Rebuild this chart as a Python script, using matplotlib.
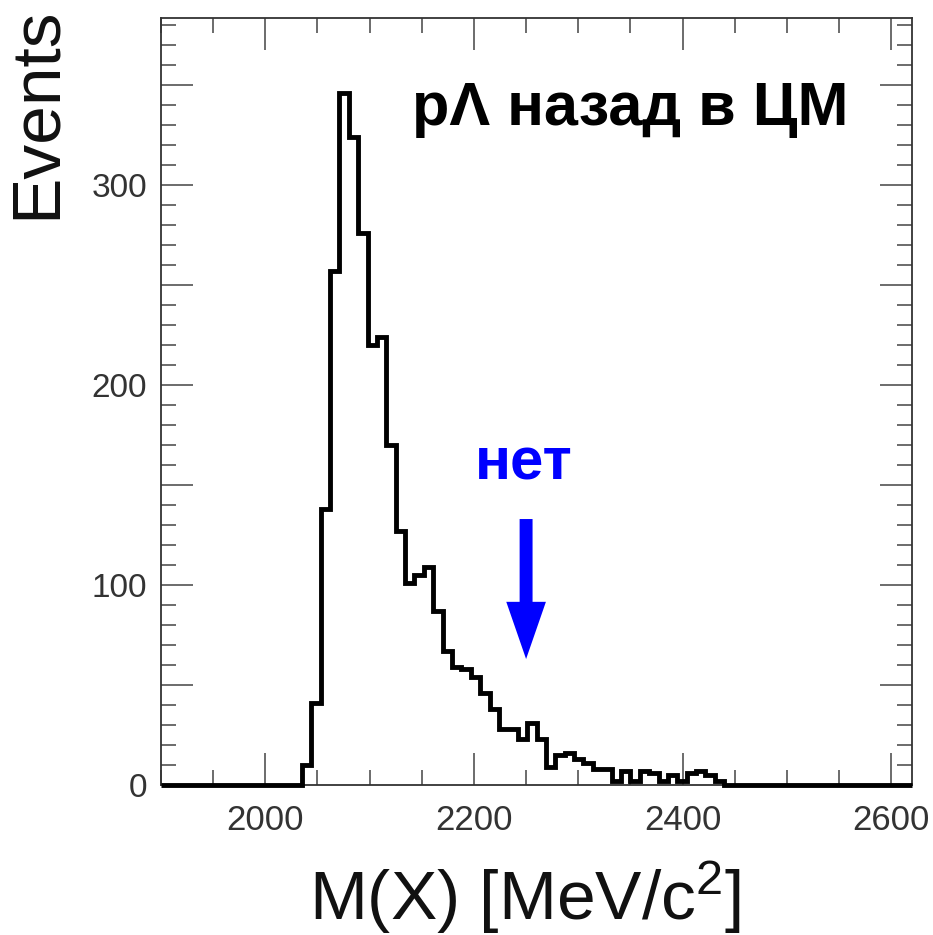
import numpy as np
import matplotlib
matplotlib.use("Agg")
import matplotlib.pyplot as plt
from matplotlib.ticker import MultipleLocator, FuncFormatter
from matplotlib.patches import FancyArrow

plt.rcParams['font.family'] = ['Liberation Sans', 'DejaVu Sans']
plt.rcParams['mathtext.default'] = 'regular'

# Histogram binning: 80 bins of 9 MeV from 1900 to 2620
x_min, x_max = 1900, 2620
n_bins = 80

# Event counts per bin
counts = [
    0, 0, 0, 0, 0, 0, 0, 0, 0, 0,
    0, 0, 0, 0, 0, 10, 41, 138, 257, 346,
    324, 276, 220, 224, 170, 127, 101, 105, 109, 87,
    67, 59, 58, 54, 46, 38, 28, 28, 23, 31,
    23, 9, 15, 16, 13, 11, 8, 8, 2, 7,
    2, 7, 6, 2, 5, 2, 6, 7, 5, 2,
    0, 0, 0, 0, 0, 0, 0, 0, 0, 0,
    0, 0, 0, 0, 0, 0, 0, 0, 0, 0,
]

x_tick_labels = [2000, 2200, 2400, 2600]
y_tick_labels = [0, 100, 200, 300]

title_text = "pΛ назад в ЦМ"
marker_text = "нет"
marker_mass = 2250  # MeV/c^2

edges = np.linspace(x_min, x_max, n_bins + 1)

fig = plt.figure(figsize=(9.33, 9.35), dpi=100)
ax = fig.add_axes([0.1726, 0.1604, 0.8049, 0.8203])

ax.stairs(counts, edges, color='black', linewidth=3.5, baseline=None,
          clip_on=False, zorder=3)

ax.set_xlim(x_min, x_max)
ax.set_ylim(0, 383.5)

ax.xaxis.set_major_locator(MultipleLocator(200))
ax.xaxis.set_minor_locator(MultipleLocator(50))
ax.yaxis.set_major_locator(MultipleLocator(50))
ax.yaxis.set_minor_locator(MultipleLocator(10))
ax.xaxis.set_major_formatter(
    FuncFormatter(lambda v, p: f"{v:.0f}" if round(v) in x_tick_labels else ""))
ax.yaxis.set_major_formatter(
    FuncFormatter(lambda v, p: f"{v:.0f}" if round(v) in y_tick_labels else ""))

ax.tick_params(which='both', direction='in', top=True, right=True,
               color='#444444', width=1.1, labelcolor='#333333',
               labelsize=24)
ax.tick_params(which='major', length=23)
ax.tick_params(which='minor', length=11)
ax.tick_params(axis='x', pad=14, labelsize=25)
ax.tick_params(axis='y', pad=10)

for s in ax.spines.values():
    s.set_linewidth(1.3)
    s.set_color('#333333')

# Axis titles
ax.text(0.485, -0.176, "M(X) [MeV/c$^{2}$]", transform=ax.transAxes,
        ha='center', va='baseline', fontsize=50, color='#111111')
ax.text(-0.208, 0.876, "Events", transform=ax.transAxes, rotation=90,
        ha='left', va='center', fontsize=50, color='#111111')

# Panel title
ax.text(2141, 330, title_text, ha='left', va='baseline',
        fontsize=44, fontweight='bold', color='black')

# Marked mass position
ax.text(marker_mass - 49, 153, marker_text, ha='left', va='baseline',
        fontsize=43, fontweight='bold', color='#0000FF')
ax.add_patch(FancyArrow(marker_mass, 133, 0, -70, width=12.4,
                        head_width=38, head_length=28.6,
                        length_includes_head=True, color='#0000FF',
                        linewidth=0, zorder=4))

fig.savefig("out.png", dpi=100)
